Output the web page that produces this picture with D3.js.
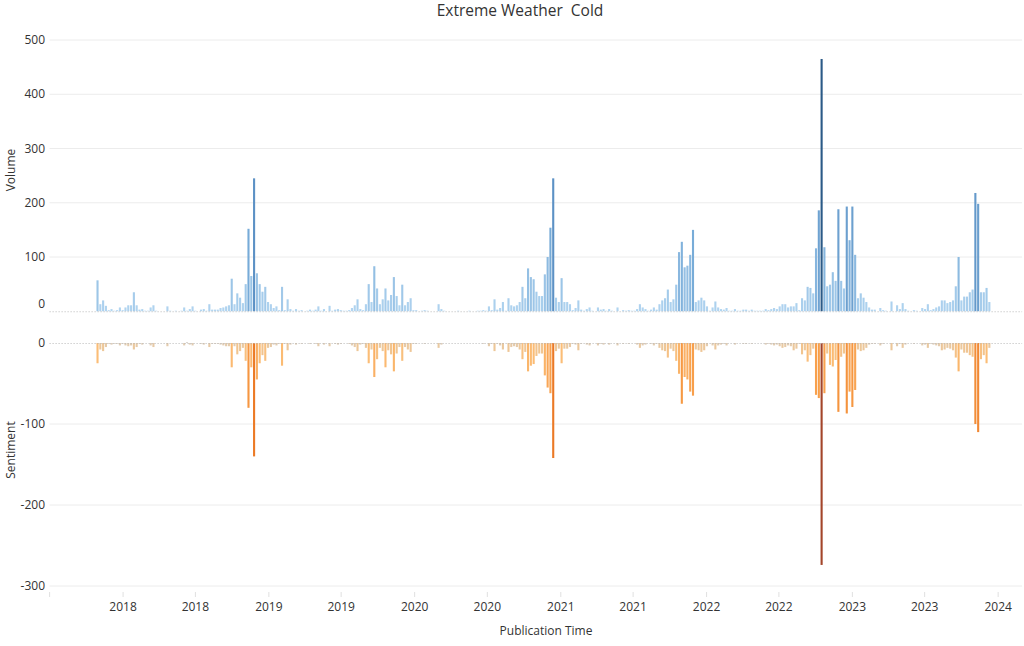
<!DOCTYPE html>
<html><head><meta charset="utf-8">
<script src="https://cdn.jsdelivr.net/npm/d3@7"></script>
<style>body{margin:0;background:#fff;} text{font-family:"Open Sans",sans-serif;}</style>
</head><body><svg id="c" width="1024" height="646"></svg>
<script>
// ---------- data ----------
const title = "Extreme Weather  Cold";
const firstWeek = "2017-10-29";
const volume = [
57,13,20,10,2,4,1,2,7,2, 7,11,11,35,11,3,4,1,1,7, 11,1,0,0,0,9,1,0,1,0, 1,7,1,4,9,1,0,3,4,1,
13,3,3,3,6,7,9,11,60,13, 33,25,15,50,152,65,245,70,50,36, 45,17,13,6,9,2,45,2,22,4, 1,4,1,2,0,1,3,1,3,
9,1,4,0,10,1,3,4,2,1, 1,2,6,11,22,4,2,13,50,17, 83,42,13,22,42,20,30,63,28,11, 49,11,17,24,2,2,0,1,2,1,
0,0,0,13,4,1,0,0,0,0, 1,0,0,0,1,0,0,1,1,2, 1,9,2,22,3,6,17,1,24,11, 9,11,17,45,24,79,63,59,36,28, 28,68,100,
154,245,25,17,61,17,17,13,2,6, 20,3,1,4,7,1,0,7,3,4, 1,4,1,0,7,0,2,1,2,1, 1,4,13,7,4,1,3,7,3,13,
20,24,40,17,22,49,109,128,81,84, 104,150,17,20,25,20,9,1,7,18, 7,4,3,6,1,1,4,1,1,3, 3,1,3,1,1,1,1,4,2,4, 6,4,
9,13,13,7,9,9,15,2,24,20, 45,43,33,116,186,465,118,46,49,72, 56,188,56,42,193,131,193,104,24,33, 25,17,7,3,3,0,6,2,1,0,
18,0,11,4,15,4,1,0,2,1, 0,6,4,13,2,4,7,9,20,20, 15,17,20,46,100,20,27,27,35,40, 218,198,35,35,43,17
];
const sentiment = [
-25,-8,-10,-5,-1,-2,-1,-1,-3,-1, -3,-4,-3,-8,-5,-1,-2,0,0,-3, -5,0,0,0,0,-4,0,0,0,0, 0,-3,1,-2,-3,0,0,-1,-2,0,
-5,-1,-1,-1,-2,-3,-4,-4,-30,-4, -14,-10,-6,-22,-80,-30,-140,-45,-25,-15, -22,-6,-5,-2,-3,-1,-28,-1,-9,-2, 0,-2,0,-1,0,0,-1,0,-1,
-4,0,-2,0,-4,0,-1,-2,-1,0, 0,-1,-3,-5,-10,-2,-1,-6,-25,-8, -42,-20,-6,-10,-30,-9,-14,-35,-13,-5, -22,-5,-8,-11,-1,-1,0,0,-1,0,
0,0,0,-6,-2,0,0,0,0,0, 0,0,0,0,0,0,0,0,0,-1, 0,-4,-1,-10,-1,-3,-8,0,-11,-5, -4,-5,-8,-20,-11,-35,-28,-26,-16,-13, -13,-40,-55,
-62,-142,-10,-7,-25,-7,-7,-5,-1,-2, -9,-1,0,-2,-3,0,0,-3,-1,-2, 0,-2,0,0,-3,0,-1,0,-1,0, 0,-2,-6,-3,-2,0,-1,-3,-1,-6,
-9,-10,-18,-7,-10,-22,-38,-75,-42,-45, -60,-65,-8,-9,-11,-9,-4,0,-3,-8, -3,-2,-1,-3,0,0,-2,0,0,-1, -1,0,-1,0,0,0,0,-2,-1,-2, -3,-2,
-4,-6,-5,-3,-4,-9,-7,-1,-14,-9, -23,-15,-7,-64,-68,-274,-62,-13,-27,-29, -21,-85,-17,-13,-87,-60,-79,-58,-8,-10, -9,-6,-2,-1,-1,0,-3,-1,0,0,
-9,0,-4,-1,-6,-2,0,0,-1,0, 0,-3,-2,-6,-1,-2,-3,-4,-9,-8, -6,-7,-9,-18,-35,-8,-12,-12,-15,-17, -100,-110,-20,-15,-25,-6
];
const xTickDates = ["2017-07-01","2018-01-01","2018-07-01","2019-01-01","2019-07-01","2020-01-01","2020-07-01",
  "2021-01-01","2021-07-01","2022-01-01","2022-07-01","2023-01-01","2023-07-01","2024-01-01"];
const xTickLabels = ["","2018","2018","2019","2019","2020","2020","2021","2021","2022","2022","2023","2023","2024"];
const volumeTicks = [0,100,200,300,400,500];
const sentimentTicks = [0,-100,-200,-300];
const xDomain = ["2017-07-01","2024-03-01"];

// ---------- drawing ----------
const svg = d3.select("#c");
const parse = d3.utcParse("%Y-%m-%d");
const start = parse(firstWeek);
const rows = volume.map((v,i)=>({date:d3.utcWeek.offset(start,i), v, s:sentiment[i]}));

const L = 49.6, R = 1022.1;
const x = d3.scaleUtc().domain(xDomain.map(parse)).range([L,R]);
const yV = d3.scaleLinear().domain([0,500]).range([311.25,40]);
const yS = d3.scaleLinear().domain([0,-300]).range([343,586]);

const volColor = d3.scaleLinear().domain([0,150,250,465])
  .range(["#b3d6f1","#78acd8","#5b90c4","#2b5a87"]).interpolate(d3.interpolateLab).clamp(true);
const sentColor = d3.scaleLinear().domain([-274,-140,-70,-25,-6,0,5])
  .range(["#a3452a","#ec7a25","#f79b45","#fbbd76","#e9c9a1","#d9cfc3","#c3ccd8"]).interpolate(d3.interpolateLab).clamp(true);

// gridlines
svg.append("g").selectAll("line").data(volumeTicks.filter(d=>d!==0)).join("line")
  .attr("x1",L).attr("x2",R).attr("y1",d=>yV(d)).attr("y2",d=>yV(d))
  .attr("stroke","#ececec").attr("stroke-width",1);
svg.append("g").selectAll("line").data(sentimentTicks.filter(d=>d!==0)).join("line")
  .attr("x1",L).attr("x2",R).attr("y1",d=>yS(d)).attr("y2",d=>yS(d))
  .attr("stroke","#ececec").attr("stroke-width",1);

const bw = 2.1;
svg.append("g").selectAll("rect").data(rows).join("rect")
  .attr("x",d=>x(d.date)-bw/2).attr("width",bw)
  .attr("y",d=>yV(d.v)).attr("height",d=>yV(0)-yV(d.v))
  .attr("fill",d=>volColor(d.v));
svg.append("g").selectAll("rect").data(rows).join("rect")
  .attr("x",d=>x(d.date)-bw/2).attr("width",bw)
  .attr("y",d=>d.s<0?yS(0):yS(d.s)).attr("height",d=>Math.abs(yS(d.s)-yS(0)))
  .attr("fill",d=>sentColor(d.s));

// zero lines (dotted)
[yV(0), yS(0)].forEach(yy=>{
  svg.append("line").attr("x1",L).attr("x2",R).attr("y1",yy+0.5).attr("y2",yy+0.5)
    .attr("stroke","#b8b8b8").attr("stroke-width",1).attr("stroke-dasharray","1,2");
});

// y tick labels
svg.append("g").selectAll("text").data(volumeTicks).join("text")
  .attr("x",45).attr("y",d=>d===0?yV(d)-7:yV(d)).attr("dy","0.35em").attr("text-anchor","end")
  .attr("font-size",12).attr("fill","#333").text(d=>d);
svg.append("g").selectAll("text").data(sentimentTicks).join("text")
  .attr("x",45).attr("y",d=>yS(d)).attr("dy","0.35em").attr("text-anchor","end")
  .attr("font-size",12).attr("fill","#333").text(d=>d);

// axis titles
svg.append("text").attr("transform","translate(15,170) rotate(-90)").attr("text-anchor","middle")
  .attr("font-size",12).attr("fill","#333").text("Volume");
svg.append("text").attr("transform","translate(15,450) rotate(-90)").attr("text-anchor","middle")
  .attr("font-size",12).attr("fill","#333").text("Sentiment");

// x axis
const xt = xTickDates.map(parse);
svg.append("g").selectAll("line").data(xt).join("line")
  .attr("x1",d=>x(d)).attr("x2",d=>x(d)).attr("y1",592).attr("y2",597)
  .attr("stroke","#e0e0e0");
svg.append("g").selectAll("text").data(xt).join("text")
  .attr("x",d=>x(d)).attr("y",607).attr("dy","0.35em").attr("text-anchor","middle")
  .attr("font-size",12).attr("fill","#333").text((d,i)=>xTickLabels[i]);
svg.append("text").attr("x",546).attr("y",631).attr("dy","0.35em").attr("text-anchor","middle")
  .attr("font-size",12).attr("fill","#333").text("Publication Time");

svg.append("text").attr("x",520).attr("y",11).attr("dy","0.35em").attr("text-anchor","middle")
  .style("white-space","pre")
  .attr("font-size",15.5).attr("fill","#333").text(title);
</script></body></html>
